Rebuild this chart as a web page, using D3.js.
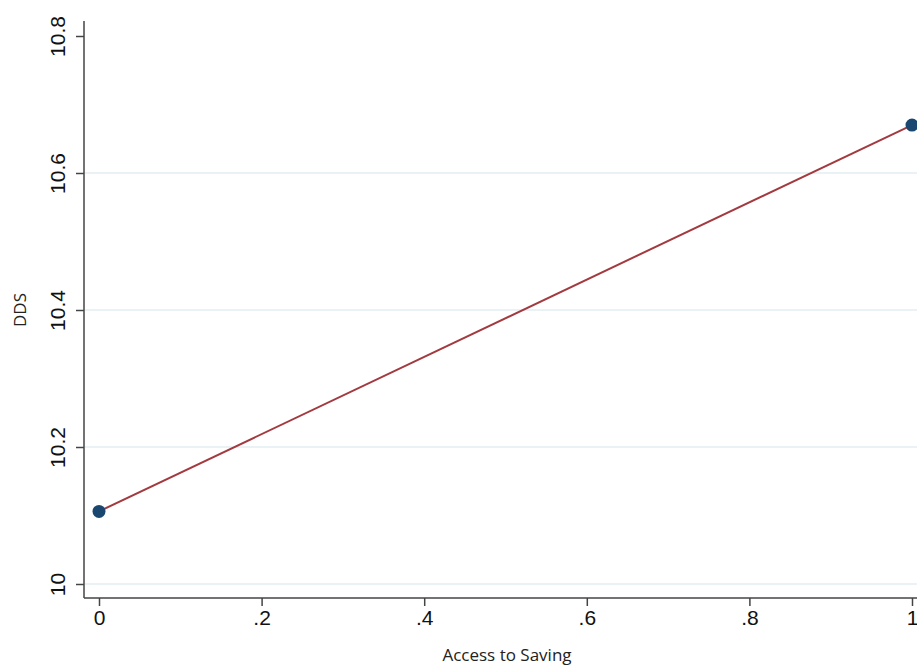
<!DOCTYPE html>
<html>
<head>
<meta charset="utf-8">
<script src="https://cdn.jsdelivr.net/npm/d3@7"></script>
<style>
  body { margin: 0; background: #fff; }
  svg { display: block; }
</style>
</head>
<body>
<svg id="chart" width="917" height="666"></svg>
<script>
// values
var access = [0, 1];
var dds = [10.106, 10.67];
var xTicks = [0, 0.2, 0.4, 0.6, 0.8, 1];
var yTicks = [10, 10.2, 10.4, 10.6, 10.8];
var gridTicks = [10, 10.2, 10.4, 10.6];

var svg = d3.select("#chart");

var x = d3.scaleLinear().domain([0, 1]).range([99, 912]);
var y = d3.scaleLinear().domain([10, 10.8]).range([584, 36]);

var fmtX = function(d) { return d === 0 || d === 1 ? String(d) : String(d).replace(/^0/, ""); };

// gridlines
svg.append("g")
  .selectAll("line")
  .data(gridTicks)
  .enter()
  .append("line")
  .attr("x1", 85)
  .attr("x2", 917)
  .attr("y1", function(d) { return y(d); })
  .attr("y2", function(d) { return y(d); })
  .attr("stroke", "#e3eef2")
  .attr("stroke-width", 1.5);

// y axis
var yAxis = svg.append("g")
  .attr("transform", "translate(84,0)")
  .call(d3.axisLeft(y).tickValues(yTicks).tickSize(8).tickFormat(function(d) { return String(+d.toFixed(1)); }));
yAxis.select(".domain").attr("d", "M0,21V598").attr("stroke", "#444").attr("stroke-width", 1.5);
yAxis.selectAll(".tick line").attr("stroke", "#444").attr("stroke-width", 1.5);
yAxis.selectAll(".tick text")
  .attr("font-family", "Liberation Sans, Arial, sans-serif")
  .attr("font-size", 21)
  .attr("fill", "#111")
  .attr("text-anchor", "middle")
  .attr("x", null).attr("dy", null)
  .attr("transform", "translate(-19,0) rotate(-90)");

// x axis
var xAxis = svg.append("g")
  .attr("transform", "translate(0,598)")
  .call(d3.axisBottom(x).tickValues(xTicks).tickSize(8).tickFormat(fmtX));
xAxis.select(".domain").attr("d", "M84,0H917").attr("stroke", "#444").attr("stroke-width", 1.5);
xAxis.selectAll(".tick line").attr("stroke", "#444").attr("stroke-width", 1.5);
xAxis.selectAll(".tick text")
  .attr("font-family", "Liberation Sans, Arial, sans-serif")
  .attr("font-size", 21)
  .attr("fill", "#111")
  .attr("y", 12);

// axis titles
svg.append("text")
  .attr("x", 507)
  .attr("y", 661)
  .attr("text-anchor", "middle")
  .attr("font-family", "Open Sans, Noto Sans, sans-serif")
  .attr("font-size", 17)
  .attr("fill", "#222")
  .text("Access to Saving");

svg.append("text")
  .attr("transform", "translate(26,310) rotate(-90)")
  .attr("text-anchor", "middle")
  .attr("font-family", "Open Sans, Noto Sans, sans-serif")
  .attr("font-size", 17)
  .attr("fill", "#222")
  .text("DDS");

var pts = access.map(function(a, i) { return { a: a, v: dds[i] }; });

// fitted line
var line = d3.line()
  .x(function(d) { return x(d.a); })
  .y(function(d) { return y(d.v); });

svg.append("path")
  .datum(pts)
  .attr("d", line)
  .attr("fill", "none")
  .attr("stroke", "#a23a3f")
  .attr("stroke-width", 2);

// markers
svg.append("g")
  .selectAll("circle")
  .data(pts)
  .enter()
  .append("circle")
  .attr("cx", function(d) { return x(d.a); })
  .attr("cy", function(d) { return y(d.v); })
  .attr("r", 6.5)
  .attr("fill", "#1a476f");
</script>
</body>
</html>
